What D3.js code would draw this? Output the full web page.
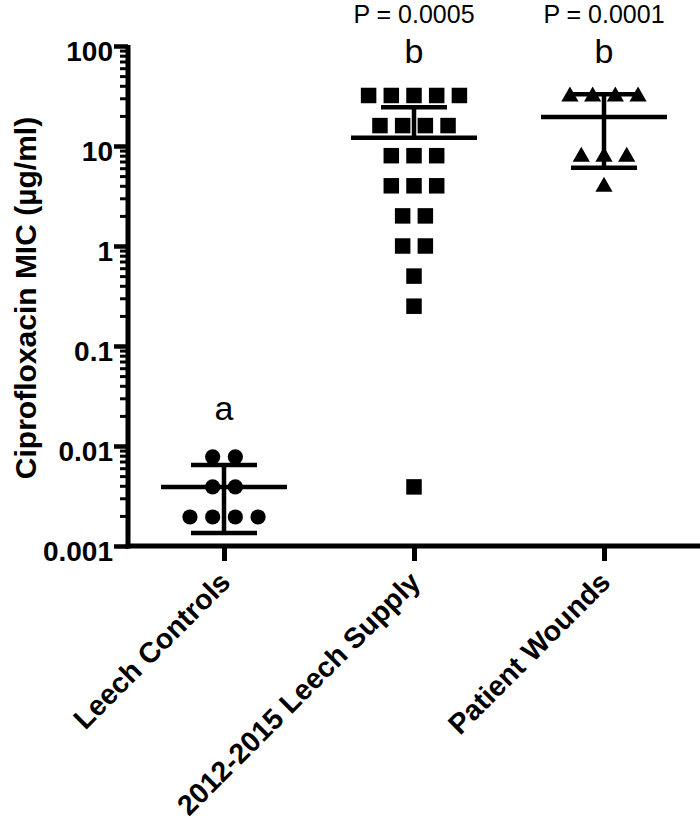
<!DOCTYPE html>
<html>
<head>
<meta charset="utf-8">
<script src="https://cdn.jsdelivr.net/npm/d3@7"></script>
<style>
  html, body { margin: 0; padding: 0; background: #fff; }
  svg { display: block; }
  text { font-family: "Liberation Sans", Arial, Helvetica, sans-serif; fill: #000; }
</style>
</head>
<body>
<svg id="chart" width="700" height="821"></svg>
<script>
// ---- data ----
const categories = ["Leech Controls", "2012-2015 Leech Supply", "Patient Wounds"];
const leechControls = [0.0078, 0.0078, 0.0039, 0.0039, 0.00195, 0.00195, 0.00195, 0.00195];
const leechSupply = [32, 32, 32, 32, 32, 16, 16, 16, 16, 8, 8, 8, 4, 4, 4, 2, 2, 1, 1, 0.5, 0.25, 0.0039];
const patientWounds = [32, 32, 32, 32, 8, 8, 8, 4];
const groupLetters = ["a", "b", "b"];
const pValueLabels = ["", "P = 0.0005", "P = 0.0001"];
const yTickValues = [0.001, 0.01, 0.1, 1, 10, 100];
const yTickLabels = ["0.001", "0.01", "0.1", "1", "10", "100"];
const markerShapes = ["circle", "square", "triangle"];

const seriesValues = [leechControls, leechSupply, patientWounds];

// ---- layout ----
const svg = d3.select("#chart");
const axisX = 128, yTop = 46, yBottom = 546;

const y = d3.scaleLog().domain([0.001, 100]).range([yBottom, yTop]);
const x = d3.scalePoint().domain(categories).range([129, 699]).padding(0.5);

// minor tick values
const minorTicks = [];
for (let e = -3; e < 2; e++) {
  for (let m = 2; m <= 9; m++) minorTicks.push(m * Math.pow(10, e));
}

// minor ticks
const gMinor = svg.append("g").attr("transform", `translate(${axisX},0)`)
  .call(d3.axisLeft(y).tickValues(minorTicks).tickSize(8).tickSizeOuter(0).tickFormat(""));
gMinor.select(".domain").remove();
gMinor.selectAll(".tick line").attr("stroke", "#000").attr("stroke-width", 3);

// major ticks + labels
const gY = svg.append("g").attr("transform", `translate(${axisX},0)`)
  .call(d3.axisLeft(y).tickValues(yTickValues).tickSize(14).tickSizeOuter(0)
    .tickFormat((d, i) => yTickLabels[i]));
gY.select(".domain").remove();
gY.selectAll(".tick line").attr("stroke", "#000").attr("stroke-width", 4.5);
gY.selectAll(".tick text")
  .attr("x", -15).attr("dy", "0.5em")
  .attr("font-size", 28).attr("font-weight", "bold")
  .attr("font-family", "'Liberation Sans', Arial, sans-serif");

// x axis
const gX = svg.append("g").attr("transform", `translate(0,${yBottom})`)
  .call(d3.axisBottom(x).tickSize(15).tickSizeOuter(0).tickFormat(""));
gX.select(".domain").remove();
gX.selectAll(".tick line").attr("stroke", "#000").attr("stroke-width", 5);

// axis lines
svg.append("line").attr("x1", axisX).attr("x2", axisX)
  .attr("y1", y(100) - 1).attr("y2", yBottom + 2.5)
  .attr("stroke", "#000").attr("stroke-width", 5);
svg.append("line").attr("x1", axisX - 2.5).attr("x2", 700)
  .attr("y1", yBottom).attr("y2", yBottom)
  .attr("stroke", "#000").attr("stroke-width", 5);

// x labels
svg.append("g").selectAll("text").data(categories).join("text")
  .attr("transform", d => `translate(${x(d) + 8},${yBottom + 38}) rotate(-45)`)
  .attr("text-anchor", "end")
  .attr("font-size", 28.5).attr("font-weight", "bold")
  .text(d => d);

// y label
svg.append("text")
  .attr("transform", `translate(36,${(yTop + yBottom) / 2 + 2}) rotate(-90)`)
  .attr("text-anchor", "middle")
  .attr("font-size", 30).attr("font-weight", "bold")
  .text("Ciprofloxacin MIC (µg/ml)");

// ---- data marks ----
const spacing = 22.7;
const sym = {
  circle: d3.symbol().type(d3.symbolCircle).size(Math.PI * 7.6 * 7.6),
  square: d3.symbol().type(d3.symbolSquare).size(15.5 * 15.5),
  triangle: d3.symbol().type(d3.symbolTriangle).size(128)
};

seriesValues.forEach((vals, gi) => {
  const cx = x(categories[gi]);
  const g = svg.append("g");

  // summary: mean ± SD
  const mean = d3.mean(vals);
  const sd = d3.deviation(vals);
  const hi = mean + sd, lo = mean - sd;
  const lineW = 4.5;
  const capHalf = 33, meanHalf = 63;

  const topY = y(hi);
  const botY = lo > 0 ? y(lo) : y(mean);
  g.append("line").attr("x1", cx).attr("x2", cx).attr("y1", topY).attr("y2", botY)
    .attr("stroke", "#000").attr("stroke-width", lineW);
  g.append("line").attr("x1", cx - capHalf).attr("x2", cx + capHalf)
    .attr("y1", topY).attr("y2", topY).attr("stroke", "#000").attr("stroke-width", lineW);
  if (lo > 0) {
    g.append("line").attr("x1", cx - capHalf).attr("x2", cx + capHalf)
      .attr("y1", botY).attr("y2", botY).attr("stroke", "#000").attr("stroke-width", lineW);
  }
  g.append("line").attr("x1", cx - meanHalf).attr("x2", cx + meanHalf)
    .attr("y1", y(mean)).attr("y2", y(mean)).attr("stroke", "#000").attr("stroke-width", lineW);

  // points, spread horizontally within rows of equal value
  const rows = d3.group(vals, v => v);
  const pts = [];
  rows.forEach((arr, v) => {
    arr.forEach((_, i) => pts.push({ v, off: (i - (arr.length - 1) / 2) * spacing }));
  });
  const shape = markerShapes[gi];
  g.selectAll("path.pt").data(pts).join("path")
    .attr("class", "pt")
    .attr("d", sym[shape])
    .attr("transform", d => `translate(${cx + d.off},${y(d.v) + (shape === "triangle" ? 1 : 0)})`)
    .attr("fill", "#000");
});

// group letters
svg.append("g").selectAll("text").data(categories).join("text")
  .attr("x", d => x(d))
  .attr("y", (d, i) => i === 0 ? 420 : 63)
  .attr("text-anchor", "middle")
  .attr("font-size", 34)
  .text((d, i) => groupLetters[i]);

// p values
svg.append("g").selectAll("text").data(categories).join("text")
  .attr("x", d => x(d))
  .attr("y", 23)
  .attr("text-anchor", "middle")
  .attr("font-size", 25)
  .text((d, i) => pValueLabels[i]);
</script>
</body>
</html>
